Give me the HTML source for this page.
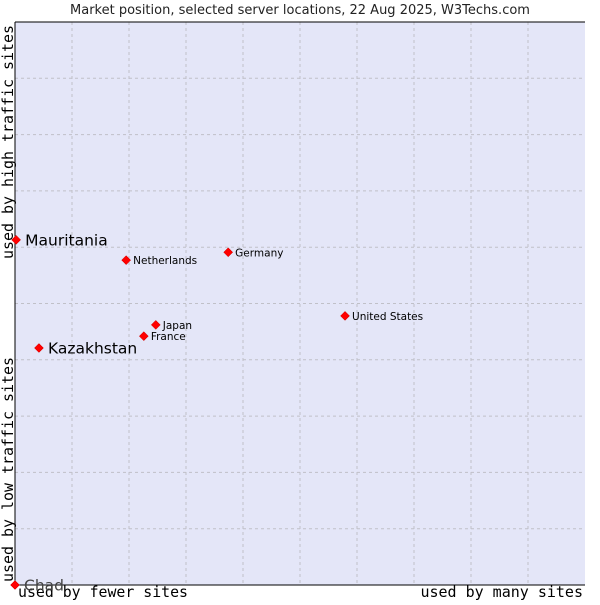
<!DOCTYPE html>
<html><head><meta charset="utf-8"><style>
body{margin:0;background:#fff;width:600px;height:600px;overflow:hidden}
text{font-family:"DejaVu Sans","Liberation Sans",sans-serif}
.mono{font-family:"DejaVu Sans Mono","Liberation Mono",monospace;font-size:15px}
</style></head><body>
<svg id="chart" width="600" height="600" xmlns="http://www.w3.org/2000/svg">
<text x="300" y="14" text-anchor="middle" font-size="13" fill="#222">Market position, selected server locations, 22 Aug 2025, W3Techs.com</text>
<rect x="15" y="22" width="570" height="563" fill="#e4e6f8"/>
<g id="grid"></g>
<line x1="15" y1="22" x2="585" y2="22" stroke="#000"/>
<line x1="15" y1="22" x2="15" y2="585" stroke="#000"/>
<line x1="15" y1="585" x2="585" y2="585" stroke="#000"/>
<text class="mono" x="18" y="597" textLength="170" lengthAdjust="spacingAndGlyphs">used by fewer sites</text>
<text class="mono" x="583" y="597" text-anchor="end">used by many sites</text>
<text class="mono" transform="translate(13,259) rotate(-90)" textLength="234" lengthAdjust="spacingAndGlyphs">used by high traffic sites</text>
<text class="mono" transform="translate(13,582) rotate(-90)" textLength="225" lengthAdjust="spacingAndGlyphs">used by low traffic sites</text>
<g id="points"></g>
</svg>
<script>
const names=["Mauritania","Netherlands","Germany","United States","Japan","France","Kazakhstan","Chad"];
const xValues=[0.2,19.5,37.4,57.9,24.7,22.6,4.2,0];
const yValues=[61.3,57.7,59.1,47.8,46.2,44.2,42.1,0];
const bigLabel=[true,false,false,false,false,false,true,true];
const NS="http://www.w3.org/2000/svg";
const X=v=>15+v*5.7, Y=v=>585-v*5.63;
const grid=document.getElementById('grid');
for(let i=1;i<10;i++){
  let l=document.createElementNS(NS,'line');
  
  
  l.setAttribute('x1',X(i*10));l.setAttribute('x2',X(i*10));l.setAttribute('y1',22);l.setAttribute('y2',585);
  l.setAttribute('stroke','#c0c0c8');l.setAttribute('stroke-dasharray','3,3');grid.appendChild(l);
  let h=document.createElementNS(NS,'line');
  
  
  h.setAttribute('y1',Y(i*10));h.setAttribute('y2',Y(i*10));h.setAttribute('x1',15);h.setAttribute('x2',585);
  h.setAttribute('stroke','#c0c0c8');h.setAttribute('stroke-dasharray','3,3');grid.appendChild(h);
}
const pts=document.getElementById('points');
names.forEach((n,i)=>{
  const cx=X(xValues[i]),cy=Y(yValues[i]);
  const d=document.createElementNS(NS,'path');
  
  
  d.setAttribute('d',`M${cx} ${cy-4.5}L${cx+4.5} ${cy}L${cx} ${cy+4.5}L${cx-4.5} ${cy}Z`);
  d.setAttribute('fill','#f00');d.setAttribute('stroke','#c00');d.setAttribute('stroke-width','0.5');
  pts.appendChild(d);
  const t=document.createElementNS(NS,'text');
  
  
  t.setAttribute('x',cx+(bigLabel[i]?9:7));
  t.setAttribute('y',cy+(bigLabel[i]?5.5:4));
  t.setAttribute('font-size',bigLabel[i]?15.5:10.5);
  t.setAttribute('fill',n==='Chad'?'#444':'#000');
  t.textContent=n;pts.appendChild(t);
});
</script>
</body></html>
